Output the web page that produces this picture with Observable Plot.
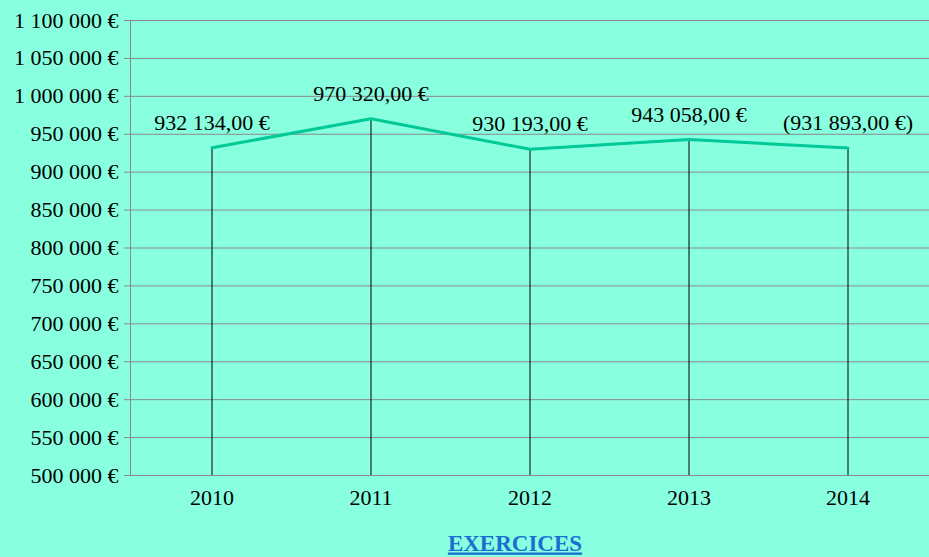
<!DOCTYPE html>
<html>
<head>
<meta charset="utf-8">
<script src="https://cdn.jsdelivr.net/npm/d3@7"></script>
<script src="https://cdn.jsdelivr.net/npm/@observablehq/plot@0.6"></script>
<style>
  html, body { margin: 0; padding: 0; background: #88ffdf; }
  #chart svg { display: block; }
  .ttl text { text-decoration: underline; }
</style>
</head>
<body>
<div id="chart"></div>
<script>
const years = ["2010", "2011", "2012", "2013", "2014"];
const values = [932134, 970320, 930193, 943058, 931893];
const valueLabels = ["932 134,00 €", "970 320,00 €", "930 193,00 €", "943 058,00 €", "(931 893,00 €)"];
const yTicks = [500000, 550000, 600000, 650000, 700000, 750000, 800000, 850000, 900000, 950000, 1000000, 1050000, 1100000];
const axisTitle = "EXERCICES";

const data = years.map((y, i) => ({year: y, value: values[i], label: valueLabels[i]}));
const fmt = v => d3.format(",")(v).replace(/,/g, " ") + " €";
const serif = "'Liberation Serif', 'Times New Roman', serif";

const chart = Plot.plot({
  width: 929,
  height: 557,
  marginLeft: 130,
  marginRight: 0,
  marginTop: 20,
  marginBottom: 82,
  style: {background: "#88ffdf", fontFamily: serif, color: "black"},
  x: {type: "band", domain: years, padding: 0, axis: null},
  y: {domain: [500000, 1100000], axis: null},
  marks: [
    Plot.gridY(yTicks, {stroke: "#8a8a8a", strokeOpacity: 1}),
    Plot.frame({stroke: "#8a8a8a"}),
    Plot.axisY({ticks: yTicks, tickFormat: fmt, tickSize: 6, tickPadding: 6, stroke: "#8a8a8a", fontSize: 22, fill: "black", label: null}),
    Plot.axisX({tickSize: 0, tickPadding: 14, fontSize: 22, fill: "black", label: null}),
    Plot.ruleX(data, {x: "year", y1: 500000, y2: "value", stroke: "black", strokeWidth: 1}),
    Plot.line(data, {x: "year", y: "value", stroke: "#00c896", strokeWidth: 3}),
    Plot.text(data, {x: "year", y: "value", text: "label", dy: -25, fontSize: 22, fill: "black"}),
    Plot.text([axisTitle], {frameAnchor: "bottom", dy: 75, dx: -15, text: d => d, fontSize: 23, fontWeight: "bold", fill: "#1a6fd0", className: "ttl"})
  ]
});
document.getElementById("chart").appendChild(chart);
</script>
</body>
</html>
